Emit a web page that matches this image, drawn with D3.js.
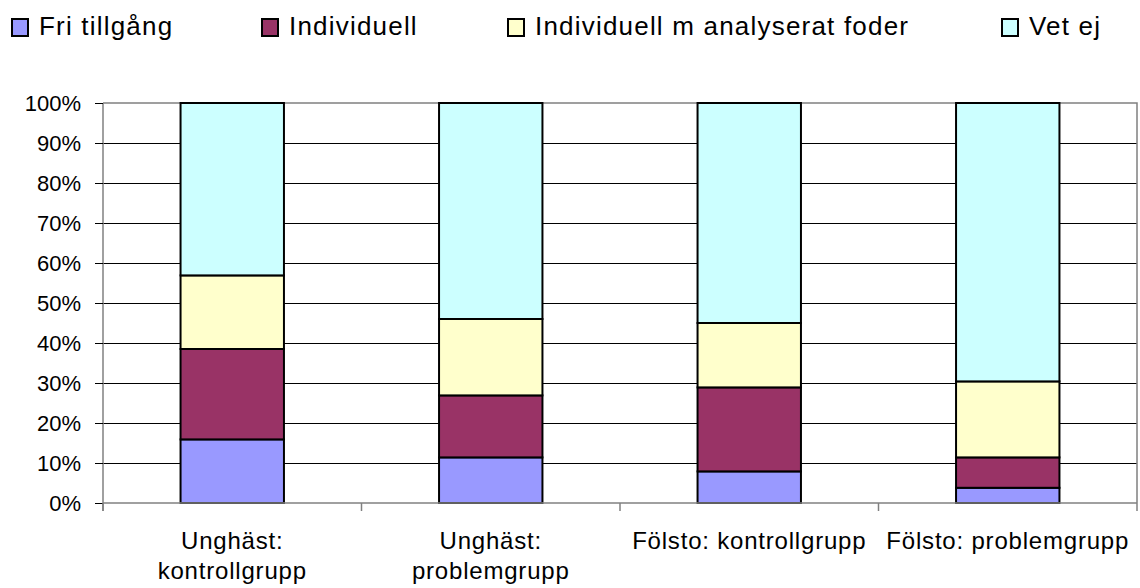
<!DOCTYPE html>
<html>
<head>
<meta charset="utf-8">
<script src="https://cdn.jsdelivr.net/npm/d3@7"></script>
<style>
  body { margin: 0; background: #fff; }
  text { font-family: "Liberation Sans", Arial, sans-serif; fill: #000; }
</style>
</head>
<body>
<svg id="chart" width="1140" height="588"></svg>
<script>
// data (percent of each group)
const categories = [
  ["Unghäst:", "kontrollgrupp"],
  ["Unghäst:", "problemgrupp"],
  ["Fölsto: kontrollgrupp"],
  ["Fölsto: problemgrupp"]
]
const seriesNames = ["Fri tillgång", "Individuell", "Individuell m analyserat foder", "Vet ej"]
const colors = ["#9999FF", "#993366", "#FFFFCC", "#CCFFFF"]
const friTillgang = [15.9, 11.4, 7.9, 3.8]
const individuell = [22.6, 15.5, 21.0, 7.6]
const individuellAnalys = [18.4, 19.1, 16.1, 19.0]
const vetEj = [43.1, 54.0, 55.0, 69.6]
const yTicks = [0, 10, 20, 30, 40, 50, 60, 70, 80, 90, 100]

const svg = d3.select("#chart")
const plotLeft = 103, plotRight = 1137, plotTop = 103, plotBottom = 503

const rows = categories.map((c, i) => ({
  key: i,
  s0: friTillgang[i], s1: individuell[i], s2: individuellAnalys[i], s3: vetEj[i]
}))
const stack = d3.stack().keys(["s0", "s1", "s2", "s3"])(rows)

const x = d3.scaleBand()
  .domain(d3.range(categories.length))
  .range([plotLeft, plotRight])
  .paddingInner(0.6)
  .paddingOuter(0.3)
const y = d3.scaleLinear().domain([0, 100]).range([plotBottom, plotTop])

// gridlines
svg.append("g")
  .selectAll("line")
  .data(yTicks.filter(t => t > 0 && t < 100))
  .join("line")
  .attr("x1", plotLeft).attr("x2", plotRight)
  .attr("y1", d => y(d)).attr("y2", d => y(d))
  .attr("stroke", "#000").attr("stroke-width", 1)
  .attr("shape-rendering", "crispEdges")

// plot frame top + right (gray)
svg.append("path")
  .attr("d", `M${plotLeft},${y(100)}H${plotRight}V${plotBottom}`)
  .attr("fill", "none").attr("stroke", "#808080").attr("stroke-width", 1.5)

// bars
svg.append("g")
  .selectAll("g")
  .data(stack)
  .join("g")
  .attr("fill", (d, i) => colors[i])
  .selectAll("rect")
  .data(d => d)
  .join("rect")
  .attr("x", d => x(d.data.key))
  .attr("width", x.bandwidth())
  .attr("y", d => y(d[1]))
  .attr("height", d => y(d[0]) - y(d[1]))
  .attr("stroke", "#000")
  .attr("stroke-width", 2)

// y axis
const yAxis = svg.append("g")
  .attr("transform", `translate(${plotLeft},0)`)
  .call(d3.axisLeft(y).tickValues(yTicks).tickFormat(d => d + "%").tickSize(8).tickPadding(14))
yAxis.select(".domain").attr("stroke", "#808080").attr("stroke-width", 1.5)
  .attr("d", `M0,${plotTop}V${plotBottom + 8}`)
yAxis.selectAll(".tick line").attr("stroke", "#000")
yAxis.selectAll(".tick text")
  .attr("font-size", 22)
  .attr("font-family", "Liberation Sans, Arial, sans-serif")

// x axis line and boundary ticks
svg.append("line")
  .attr("x1", plotLeft).attr("x2", plotRight)
  .attr("y1", plotBottom).attr("y2", plotBottom)
  .attr("stroke", "#808080").attr("stroke-width", 1.5)
const step = x.step()
svg.append("g")
  .selectAll("line")
  .data(d3.range(categories.length + 1))
  .join("line")
  .attr("x1", i => plotLeft + i * step).attr("x2", i => plotLeft + i * step)
  .attr("y1", plotBottom).attr("y2", plotBottom + 8)
  .attr("stroke", "#808080").attr("stroke-width", 1.5)

// category labels
svg.append("g")
  .selectAll("text")
  .data(categories)
  .join("text")
  .attr("text-anchor", "middle")
  .attr("font-size", 24)
  .attr("letter-spacing", 0.8)
  .attr("x", (d, i) => x(i) + x.bandwidth() / 2)
  .attr("y", 549)
  .selectAll("tspan")
  .data(d => d)
  .join("tspan")
  .attr("x", function () { return d3.select(this.parentNode).attr("x") })
  .attr("dy", (d, i) => i === 0 ? 0 : 30)
  .text(d => d)

// legend
const legendX = [12, 262, 508, 1002]
const legend = svg.append("g")
  .selectAll("g")
  .data(seriesNames)
  .join("g")
  .attr("transform", (d, i) => `translate(${legendX[i]},19)`)
legend.append("rect")
  .attr("width", 16).attr("height", 17)
  .attr("fill", (d, i) => colors[i])
  .attr("stroke", "#000").attr("stroke-width", 2)
legend.append("text")
  .attr("x", 27).attr("y", 16)
  .attr("font-size", 26)
  .attr("letter-spacing", 1.2)
  .text(d => d)
</script>
</body>
</html>
